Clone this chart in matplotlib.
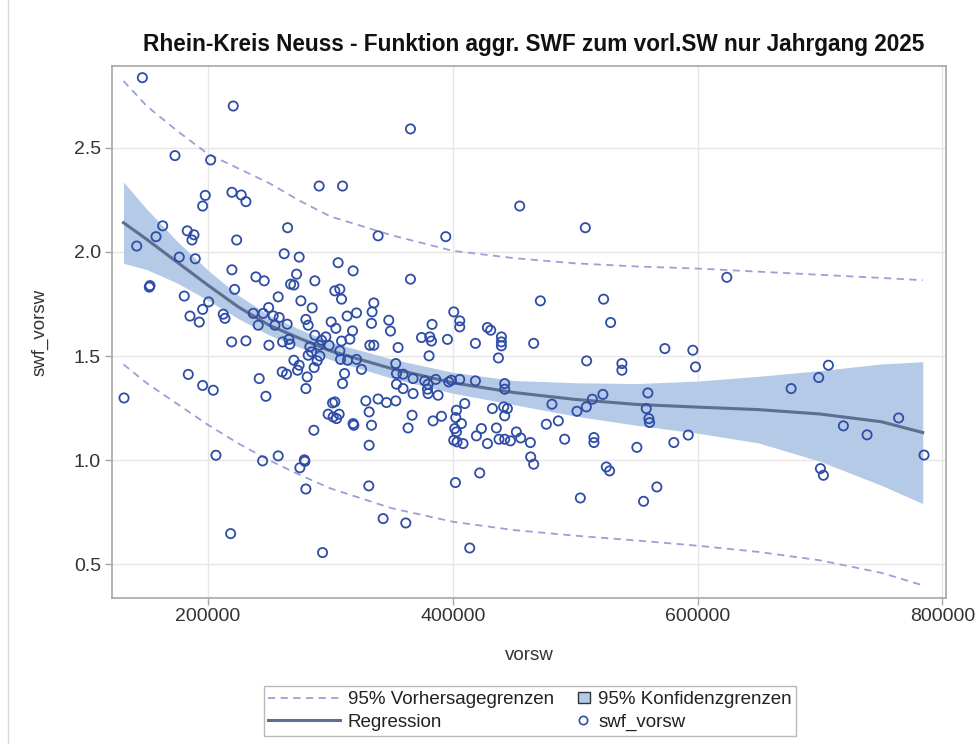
import matplotlib
matplotlib.use('Agg')
import matplotlib.pyplot as plt
from matplotlib.lines import Line2D
from matplotlib.patches import Patch, Rectangle
from matplotlib.legend_handler import HandlerBase
import numpy as np

plt.rcParams['font.family'] = ['Liberation Sans', 'DejaVu Sans']

# --- scatter data (vorsw, swf_vorsw) ---
vorsw = [
    146400, 220650, 173060, 202200, 290850, 197800, 195670, 219590, 227180, 231020,
    163020, 157550, 141800, 183100, 188570, 186940, 223430, 265060, 176570, 189630,
    262280, 274530, 219590, 152080, 152650, 180650, 200570, 195670, 185300, 192900,
    131430,
    239180, 245960, 272410, 267510, 270200, 287340, 318610, 221800, 257390, 275920,
    303670, 307750, 309140, 335500, 285140, 249550, 236980, 212490, 213880, 245140,
    253300, 258200, 241060, 254690, 264730, 280000, 281880, 300650, 304490, 313710,
    321380, 334120, 333630, 347750, 349140, 219350, 231020, 249790, 260980, 266120,
    266940, 287340, 292810, 296320, 299020, 309140, 315910, 318120, 332240, 335500,
    355340, 283260, 284650, 290850, 307750, 291430, 281880, 270200, 274530, 273220,
    289220, 286770, 308320, 314040, 321380, 325460, 311590, 260650, 264240, 281060,
    309960, 280000, 241880, 247350, 353460, 354030, 303670, 301790, 298200, 302280,
    307180, 305060, 318610, 319180, 328980, 339020, 345870, 353460, 331670, 333630,
    286530, 331670, 244650, 257390, 278770, 279180, 275100,
    183920, 195670, 204330, 206530, 280000, 218530, 293630,
    365460, 309950, 454690, 339020, 394280, 306360, 365460,
    471580, 400810, 405710, 405710, 383100, 374450, 381220, 382610, 395670, 380650,
    418520, 428320, 431010, 439750, 439750, 439750, 437300, 466110, 359420, 354030,
    359420, 367590, 377140, 379830, 379340, 379830, 386120, 388000, 367590, 396730,
    398930, 405710, 418520, 442440, 442440, 409790, 403010, 402440, 407090, 401630,
    403010, 400810, 403500, 408400, 366770, 363510, 383920, 390770, 432400, 441630,
    444650, 442440, 423420, 419340, 435670, 437790, 442440, 447090, 451990, 455500,
    428320, 463420, 481050, 476480, 463670, 466110, 422030, 402190,
    331420, 343100, 361630, 413870,
    508310, 623900, 523260, 528970, 509380, 573300, 596150, 598350, 538190, 538190,
    676470, 699000, 706920, 486270, 501460, 509130, 514030, 522680, 491420, 515340,
    515340, 559420, 558110, 560240, 560810, 550440, 580640, 592390, 525460, 528150,
    504230, 555910, 566770, 719170, 738510, 764310, 785050, 700390, 702840,
]
swf_vorsw = [
    2.836, 2.700, 2.462, 2.441, 2.316, 2.271, 2.220, 2.286, 2.273, 2.241,
    2.125, 2.073, 2.028, 2.101, 2.082, 2.057, 2.057, 2.116, 1.975, 1.967,
    1.991, 1.975, 1.914, 1.831, 1.838, 1.788, 1.760, 1.724, 1.692, 1.663,
    1.299,
    1.880, 1.861, 1.893, 1.845, 1.841, 1.861, 1.909, 1.820, 1.784, 1.765,
    1.813, 1.821, 1.773, 1.755, 1.731, 1.733, 1.705, 1.701, 1.681, 1.705,
    1.693, 1.685, 1.648, 1.648, 1.653, 1.676, 1.648, 1.664, 1.633, 1.692,
    1.707, 1.712, 1.657, 1.672, 1.620, 1.568, 1.573, 1.552, 1.568, 1.580,
    1.557, 1.600, 1.576, 1.592, 1.551, 1.572, 1.581, 1.621, 1.552, 1.552,
    1.541, 1.544, 1.520, 1.552, 1.525, 1.500, 1.504, 1.480, 1.456, 1.432,
    1.477, 1.445, 1.484, 1.480, 1.484, 1.436, 1.416, 1.424, 1.413, 1.400,
    1.368, 1.344, 1.392, 1.307, 1.464, 1.416, 1.280, 1.275, 1.221, 1.208,
    1.221, 1.200, 1.176, 1.168, 1.285, 1.294, 1.277, 1.285, 1.232, 1.168,
    1.144, 1.072, 0.997, 1.021, 1.002, 0.995, 0.964,
    1.412, 1.359, 1.336, 1.024, 0.862, 0.648, 0.557,
    2.590, 2.316, 2.220, 2.077, 2.073, 1.948, 1.869,
    1.765, 1.712, 1.669, 1.640, 1.652, 1.589, 1.592, 1.572, 1.580, 1.501,
    1.561, 1.637, 1.624, 1.592, 1.568, 1.549, 1.491, 1.561, 1.413, 1.365,
    1.344, 1.392, 1.381, 1.365, 1.341, 1.320, 1.388, 1.312, 1.320, 1.376,
    1.384, 1.388, 1.381, 1.368, 1.341, 1.272, 1.240, 1.205, 1.176, 1.152,
    1.136, 1.096, 1.088, 1.080, 1.216, 1.155, 1.189, 1.211, 1.248, 1.256,
    1.248, 1.213, 1.152, 1.117, 1.155, 1.101, 1.101, 1.093, 1.136, 1.107,
    1.080, 1.085, 1.269, 1.173, 1.016, 0.981, 0.939, 0.893,
    0.877, 0.720, 0.699, 0.579,
    2.116, 1.878, 1.773, 1.661, 1.477, 1.536, 1.528, 1.448, 1.464, 1.432,
    1.344, 1.397, 1.456, 1.189, 1.235, 1.256, 1.293, 1.316, 1.101, 1.109,
    1.085, 1.323, 1.248, 1.200, 1.181, 1.062, 1.085, 1.121, 0.968, 0.949,
    0.819, 0.803, 0.872, 1.165, 1.122, 1.203, 1.025, 0.960, 0.928,
]

# --- fitted curve and limits ---
curve_x = [131000, 150000, 175000, 200000, 225000, 250000, 275000, 300000, 350000,
           400000, 450000, 500000, 550000, 600000, 650000, 700000, 750000, 784000]
regression = [2.140, 2.060, 1.950, 1.840, 1.735, 1.648, 1.585, 1.525, 1.440,
              1.372, 1.325, 1.292, 1.268, 1.255, 1.243, 1.222, 1.185, 1.133]
clm_upper = [2.335, 2.205, 2.050, 1.912, 1.791, 1.695, 1.628, 1.567, 1.486,
             1.422, 1.383, 1.372, 1.368, 1.380, 1.403, 1.430, 1.462, 1.473]
clm_lower = [1.945, 1.915, 1.850, 1.768, 1.679, 1.601, 1.542, 1.483, 1.394,
             1.322, 1.267, 1.212, 1.168, 1.130, 1.083, 0.995, 0.880, 0.792]
pred_upper = [2.820, 2.700, 2.580, 2.470, 2.400, 2.330, 2.245, 2.170, 2.080,
              2.005, 1.970, 1.945, 1.930, 1.920, 1.905, 1.890, 1.875, 1.864]
pred_lower = [1.460, 1.370, 1.270, 1.170, 1.080, 1.000, 0.930, 0.865, 0.770,
              0.705, 0.665, 0.638, 0.615, 0.590, 0.560, 0.520, 0.460, 0.400]

x_ticks = [200000, 400000, 600000, 800000]
y_ticks = [0.5, 1.0, 1.5, 2.0, 2.5]

title = 'Rhein-Kreis Neuss - Funktion aggr. SWF zum vorl.SW nur Jahrgang 2025'

marker_col = '#2F4DA6'
reg_col = '#5C6F8E'
band_col = '#B5CAE6'
pred_col = '#9C9ED8'
frame_col = '#A6A6A6'
text_col = '#333333'


# legend handlers that put a small glyph at the right end of the handle box
class SquareAtRight(HandlerBase):
    def create_artists(self, legend, orig_handle, xdescent, ydescent,
                       width, height, fontsize, trans):
        s = 8.5
        r = Rectangle((-xdescent + width - s, -ydescent + (height - s) / 2), s, s,
                      facecolor=orig_handle.get_facecolor(), edgecolor='#333333',
                      lw=1.0, transform=trans)
        return [r]


class MarkerAtRight(HandlerBase):
    def create_artists(self, legend, orig_handle, xdescent, ydescent,
                       width, height, fontsize, trans):
        m = Line2D([-xdescent + width - 4.5], [-ydescent + height / 2], ls='none',
                   marker='o', mfc='none', mec=marker_col, ms=6, mew=1.2,
                   transform=trans)
        return [m]


fig = plt.figure(figsize=(9.79, 7.44), dpi=100)
ax = fig.add_axes([112 / 979, 1 - 598 / 744, 834 / 979, 532 / 744])

ax.fill_between(curve_x, clm_lower, clm_upper, color=band_col, lw=0, zorder=2)
ax.plot(curve_x, regression, color=reg_col, lw=2.2, zorder=3)
ax.plot(curve_x, pred_upper, color=pred_col, lw=1.3, ls=(0, (4, 3)), zorder=3)
ax.plot(curve_x, pred_lower, color=pred_col, lw=1.3, ls=(0, (4, 3)), zorder=3)
ax.scatter(vorsw, swf_vorsw, s=44, facecolors='none', edgecolors=marker_col,
           linewidths=1.3, zorder=4)

ax.set_xlim(121600, 803000)
ax.set_ylim(0.339, 2.892)
ax.set_xticks(x_ticks)
ax.set_xticklabels([str(v) for v in x_ticks])
ax.set_yticks(y_ticks)
ax.set_yticklabels([f'{v:.1f}' for v in y_ticks])
ax.grid(True, color='#E6E6E6', lw=1.0, zorder=0)
ax.set_axisbelow(True)
for sp in ax.spines.values():
    sp.set_color(frame_col)
    sp.set_linewidth(1.2)
ax.tick_params(direction='out', length=5, width=1, color=frame_col,
               labelsize=14, labelcolor=text_col)
ax.tick_params(axis='x', pad=2)
ax.tick_params(axis='y', pad=3)

ax.set_xlabel('vorsw', fontsize=13.5, color=text_col, labelpad=16)
ax.set_ylabel('swf_vorsw', fontsize=13.5, color=text_col, labelpad=18)
fig.text(534 / 979, 1 - 44 / 744, title, ha='center', va='center',
         fontsize=16.3, fontweight='bold', color='#111111')

handles = [
    Line2D([], [], color=pred_col, lw=1.3, ls=(0, (4, 3))),
    Line2D([], [], color=reg_col, lw=2.2),
    Patch(facecolor=band_col),
    Line2D([], [], ls='none', marker='o'),
]
labels = ['95% Vorhersagegrenzen', 'Regression', '95% Konfidenzgrenzen', 'swf_vorsw']
leg = fig.legend(handles, labels, ncol=2, loc='center',
                 bbox_to_anchor=(530 / 979, 1 - 711 / 744), fontsize=13.5,
                 frameon=True, fancybox=False, edgecolor=frame_col,
                 handlelength=3.8, handleheight=0.7, columnspacing=-1.9,
                 labelspacing=0.3, borderpad=0.25, handletextpad=0.45,
                 borderaxespad=0,
                 handler_map={handles[2]: SquareAtRight(),
                              handles[3]: MarkerAtRight()})
leg.get_frame().set_linewidth(1.0)
for t in leg.get_texts():
    t.set_color('#222222')

# thin frame line at the left of the output area
fig.add_artist(Line2D([8 / 979, 8 / 979], [0, 1], color='#D8D8D8', lw=1.0))

fig.savefig('out.png', dpi=100)
